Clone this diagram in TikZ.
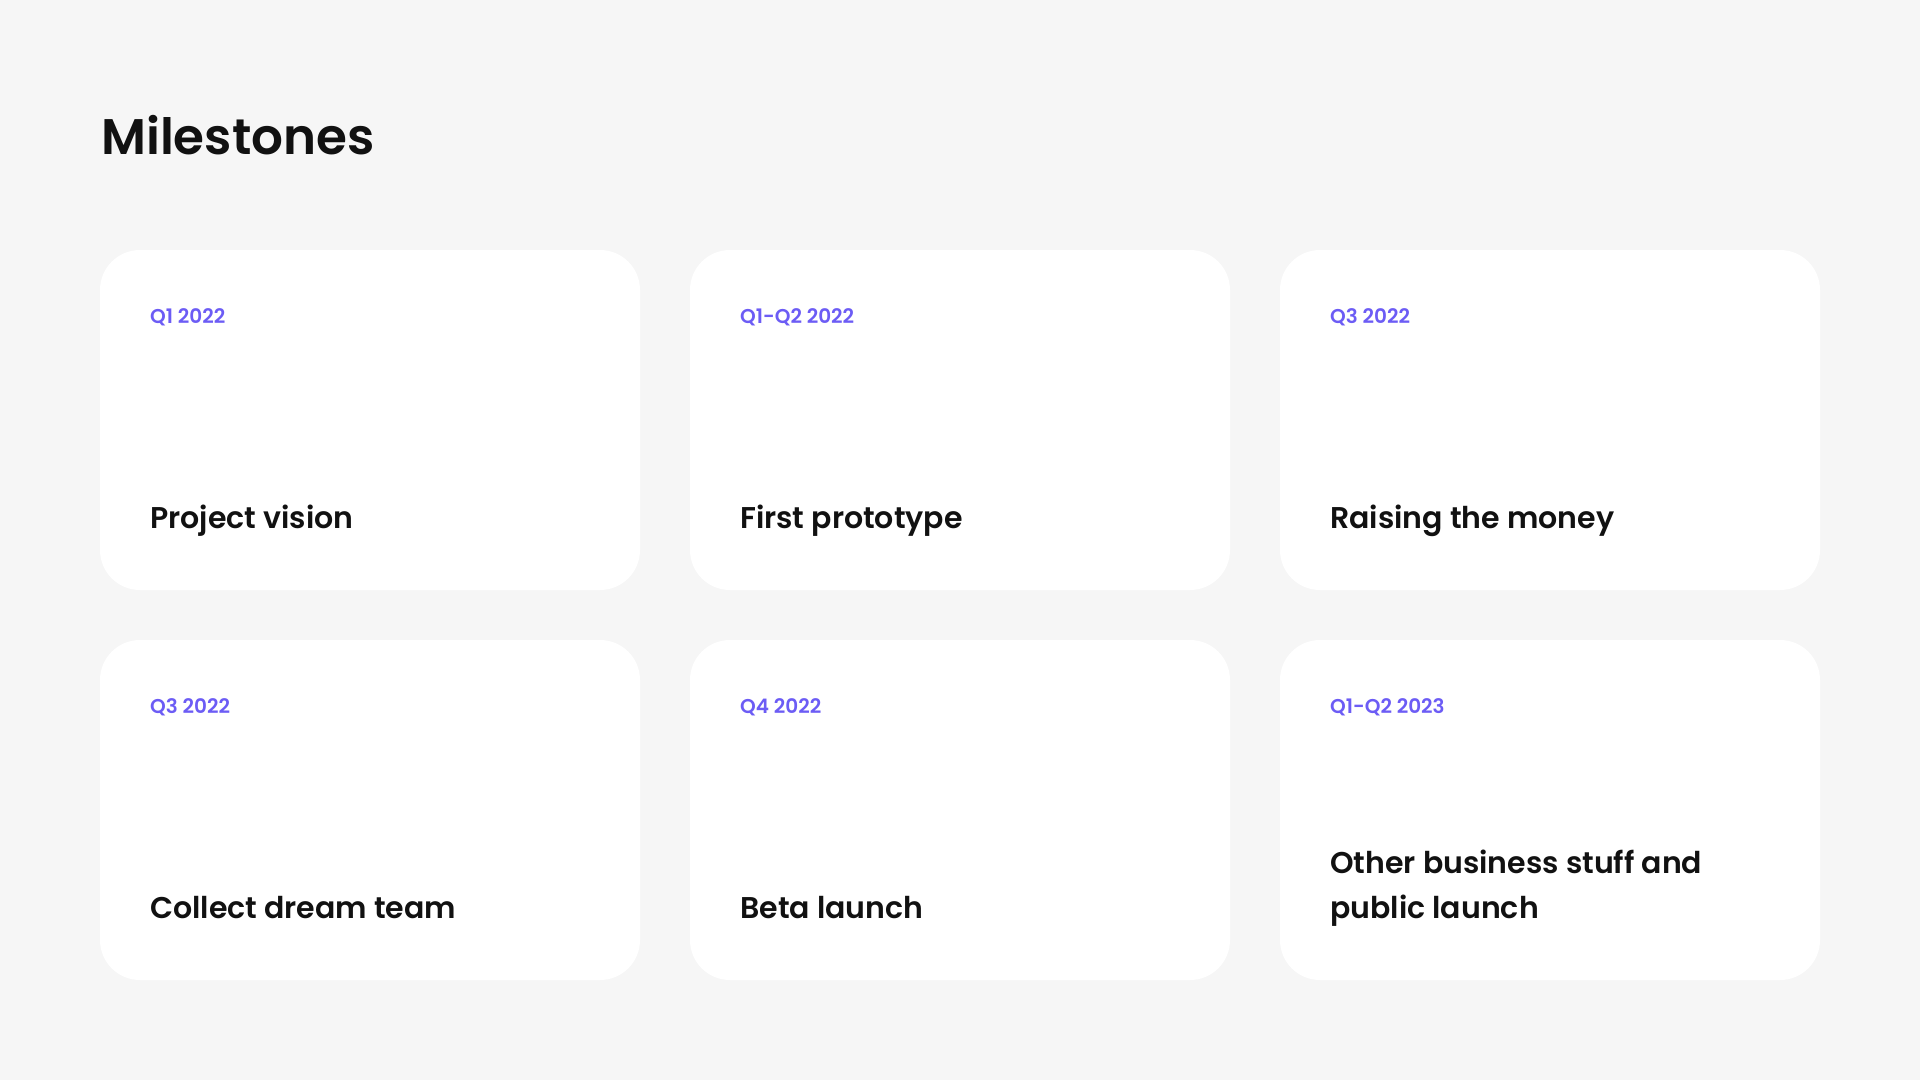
\documentclass[tikz,border=0pt]{standalone}
\usepackage{fontspec}
\setmainfont{Poppins}
\newfontfamily\semib{Poppins SemiBold}
\definecolor{bg}{HTML}{F6F6F6}
\definecolor{accent}{HTML}{6C5CF5}
\definecolor{ink}{HTML}{111111}
\begin{document}
\begin{tikzpicture}[x=1pt,y=-1pt,
  card/.style={fill=white,rounded corners=40pt},
  datelbl/.style={anchor=base west,inner sep=0pt,text=accent,font=\semib\fontsize{20}{24}\selectfont},
  titlelbl/.style={anchor=base west,inner sep=0pt,text=ink,font=\semib\fontsize{30}{45}\selectfont,align=left},
  heading/.style={anchor=base west,inner sep=0pt,text=ink,font=\semib\fontsize{50}{60}\selectfont}]
\fill[bg] (0,0) rectangle (1920,1080);
\useasboundingbox (0,0) rectangle (1920,1080);
\node[heading] (head) at (101,154) {Milestones};
\fill[card] (100,250) rectangle (640,590);
\fill[card] (690,250) rectangle (1230,590);
\fill[card] (1280,250) rectangle (1820,590);
\fill[card] (100,640) rectangle (640,980);
\fill[card] (690,640) rectangle (1230,980);
\fill[card] (1280,640) rectangle (1820,980);
\node[datelbl] (d1) at (150,323) {Q1 2022};
\node[datelbl] (d2) at (740,323) {Q1-Q2 2022};
\node[datelbl] (d3) at (1330,323) {Q3 2022};
\node[datelbl] (d4) at (150,713) {Q3 2022};
\node[datelbl] (d5) at (740,713) {Q4 2022};
\node[datelbl] (d6) at (1330,713) {Q1-Q2 2023};
\node[titlelbl] (t1) at (150,528) {Project vision};
\node[titlelbl] (t2) at (740,528) {First prototype};
\node[titlelbl] (t3) at (1330,528) {Raising the money};
\node[titlelbl] (t4) at (150,918) {Collect dream team};
\node[titlelbl] (t5) at (740,918) {Beta launch};
\node[titlelbl] (t6) at (1330,918) {Other business stuff and\\public launch};
\end{tikzpicture}
\end{document}
